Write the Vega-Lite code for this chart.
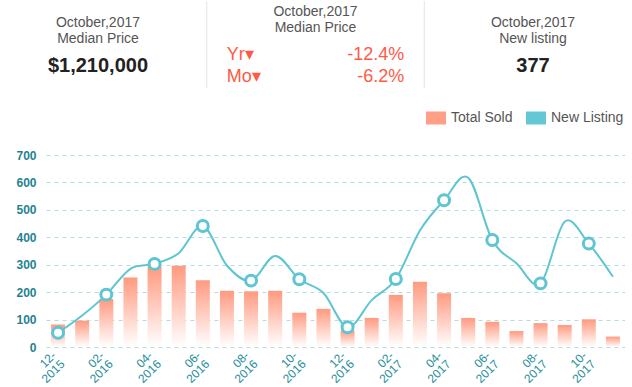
{
  "$schema": "https://vega.github.io/schema/vega-lite/v6.json",
  "padding": {"left": 15, "top": 0, "right": 0, "bottom": 0},
  "background": "white",
  "config": {
    "font": "Liberation Sans",
    "view": {"stroke": null}
  },
  "spacing": 60,
  "vconcat": [
    {
      "width": 539,
      "height": 87,
      "data": {"values": [
        {"col": "s1", "kind": "sep"},
        {"col": "s2", "kind": "sep"},
        {"col": "c1", "row": 2, "kind": "title", "text": "October,2017"},
        {"col": "c1", "row": 5, "kind": "title", "text": "Median Price"},
        {"col": "c1", "row": 10, "kind": "value", "text": "$1,210,000"},
        {"col": "c2", "row": 0, "kind": "title", "text": "October,2017"},
        {"col": "c2", "row": 3, "kind": "title", "text": "Median Price"},
        {"col": "s1", "row": 8, "kind": "chgLabel", "text": "Yr▾"},
        {"col": "s1", "row": 12, "kind": "chgLabel", "text": "Mo▾"},
        {"col": "s2", "row": 8, "kind": "chgValue", "text": "-12.4%"},
        {"col": "s2", "row": 12, "kind": "chgValue", "text": "-6.2%"},
        {"col": "c3", "row": 2, "kind": "title", "text": "October,2017"},
        {"col": "c3", "row": 5, "kind": "title", "text": "New listing"},
        {"col": "c3", "row": 10, "kind": "value", "text": "377"}
      ]},
      "encoding": {
        "x": {"field": "col", "type": "nominal", "scale": {"type": "point", "domain": ["c1", "s1", "c2", "s2", "c3"], "padding": 0.478}, "axis": null}
      },
      "layer": [
        {
          "transform": [{"filter": "datum.kind == 'sep'"}],
          "mark": {"type": "rule", "color": "#e4e4e4", "strokeWidth": 1},
          "encoding": {}
        },
        {
          "transform": [{"filter": "datum.kind == 'title'"}],
          "mark": {"type": "text", "fontSize": 14, "color": "#555555", "baseline": "middle"},
          "encoding": {
            "y": {"field": "row", "type": "quantitative", "scale": {"domain": [-2.1, 14.1], "reverse": true, "nice": false, "zero": false}, "axis": null},
            "text": {"field": "text"}
          }
        },
        {
          "transform": [{"filter": "datum.kind == 'value'"}],
          "mark": {"type": "text", "fontSize": 20, "fontWeight": "bold", "color": "#222222", "baseline": "middle"},
          "encoding": {
            "y": {"field": "row", "type": "quantitative", "axis": null},
            "text": {"field": "text"}
          }
        },
        {
          "transform": [{"filter": "datum.kind == 'chgLabel'"}],
          "mark": {"type": "text", "fontSize": 18, "color": "#ff5a45", "baseline": "middle", "align": "left", "dx": 20},
          "encoding": {
            "y": {"field": "row", "type": "quantitative", "axis": null},
            "text": {"field": "text"}
          }
        },
        {
          "transform": [{"filter": "datum.kind == 'chgValue'"}],
          "mark": {"type": "text", "fontSize": 18, "color": "#ff5a45", "baseline": "middle", "align": "right", "dx": -20},
          "encoding": {
            "y": {"field": "row", "type": "quantitative", "axis": null},
            "text": {"field": "text"}
          }
        }
      ]
    },
    {
      "width": 579,
      "height": 192,
      "data": {"values": [
        {"month": "12-2015", "sold": 82, "listing": 52},
        {"month": "01-2016", "sold": 96, "listing": 115},
        {"month": "02-2016", "sold": 175, "listing": 191},
        {"month": "03-2016", "sold": 253, "listing": 285},
        {"month": "04-2016", "sold": 292, "listing": 303},
        {"month": "05-2016", "sold": 296, "listing": 342},
        {"month": "06-2016", "sold": 243, "listing": 441},
        {"month": "07-2016", "sold": 205, "listing": 297},
        {"month": "08-2016", "sold": 203, "listing": 242},
        {"month": "09-2016", "sold": 205, "listing": 332},
        {"month": "10-2016", "sold": 125, "listing": 247},
        {"month": "11-2016", "sold": 139, "listing": 197},
        {"month": "12-2016", "sold": 60, "listing": 72},
        {"month": "01-2017", "sold": 106, "listing": 171},
        {"month": "02-2017", "sold": 190, "listing": 248},
        {"month": "03-2017", "sold": 238, "listing": 425},
        {"month": "04-2017", "sold": 196, "listing": 535},
        {"month": "05-2017", "sold": 106, "listing": 617},
        {"month": "06-2017", "sold": 92, "listing": 390},
        {"month": "07-2017", "sold": 58, "listing": 305},
        {"month": "08-2017", "sold": 87, "listing": 232},
        {"month": "09-2017", "sold": 80, "listing": 457},
        {"month": "10-2017", "sold": 101, "listing": 377},
        {"month": "11-2017", "sold": 38, "listing": 256}
      ]},
      "encoding": {
        "x": {
          "field": "month", "type": "ordinal", "sort": null, "title": null,
          "scale": {"type": "band", "paddingInner": 0.42, "paddingOuter": 0.21},
          "axis": {
            "values": ["12-2015", "02-2016", "04-2016", "06-2016", "08-2016", "10-2016", "12-2016", "02-2017", "04-2017", "06-2017", "08-2017", "10-2017"],
            "labelExpr": "[slice(datum.label, 0, 3), slice(datum.label, 3)]",
            "labelAngle": -45,
            "labelAlign": "right",
            "labelBaseline": "middle",
            "labelFontSize": 12,
            "labelLineHeight": 12,
            "labelColor": "#1f8e9b",
            "labelPadding": 6,
            "labelOffset": -4,
            "labelOverlap": false,
            "domain": false,
            "ticks": false,
            "tickSize": 0,
            "grid": false
          }
        },
        "y": {
          "field": "sold", "type": "quantitative", "title": null,
          "scale": {"domain": [0, 700], "nice": false},
          "axis": {
            "values": [0, 100, 200, 300, 400, 500, 600, 700],
            "tickCount": 8,
            "labelFontSize": 12,
            "labelFontWeight": "bold",
            "labelColor": "#1f8290",
            "labelPadding": 10,
            "labelOverlap": false,
            "labelFlush": false,
            "domain": false,
            "ticks": false,
            "tickSize": 0,
            "gridColor": "#b3dde0",
            "gridDash": [4, 4],
            "gridWidth": 1
          }
        }
      },
      "layer": [
        {
          "mark": {"type": "bar", "opacity": 0},
          "encoding": {
            "color": {
              "datum": "Total Sold",
              "scale": {"domain": ["Total Sold", "New Listing"], "range": ["#ff9f86", "#63c8d3"]},
              "legend": {
                "title": null,
                "orient": "none",
                "direction": "horizontal",
                "legendX": 380,
                "legendY": 107,
                "symbolType": "M-1,-0.65H1V0.65H-1Z",
                "symbolSize": 400,
                "symbolOpacity": 1,
                "symbolStrokeWidth": 0,
                "labelFontSize": 14,
                "labelColor": "#555555",
                "labelOffset": 5,
                "columnPadding": 13,
                "encode": {"symbols": {"update": {"opacity": {"value": 1}}}}
              }
            }
          }
        },
        {
          "mark": {"type": "bar", "opacity": 0},
          "encoding": {
            "color": {"datum": "New Listing"}
          }
        },
        {
          "mark": {
            "type": "bar",
            "color": {"gradient": "linear", "x1": 0, "y1": 0, "x2": 0, "y2": 1, "stops": [{"offset": 0, "color": "#ff9a80"}, {"offset": 1, "color": "#ffffff"}]}
          },
          "encoding": {}
        },
        {
          "mark": {"type": "line", "interpolate": "cardinal", "color": "#5ec5d1", "strokeWidth": 2},
          "encoding": {
            "y": {"field": "listing", "type": "quantitative"}
          }
        },
        {
          "transform": [{"filter": {"field": "month", "oneOf": ["12-2015", "02-2016", "04-2016", "06-2016", "08-2016", "10-2016", "12-2016", "02-2017", "04-2017", "06-2017", "08-2017", "10-2017"]}}],
          "mark": {"type": "point", "shape": "circle", "filled": false, "fill": "#ffffff", "fillOpacity": 1, "stroke": "#5ec5d1", "strokeWidth": 3, "size": 120, "opacity": 1},
          "encoding": {
            "y": {"field": "listing", "type": "quantitative"}
          }
        }
      ]
    }
  ]
}
